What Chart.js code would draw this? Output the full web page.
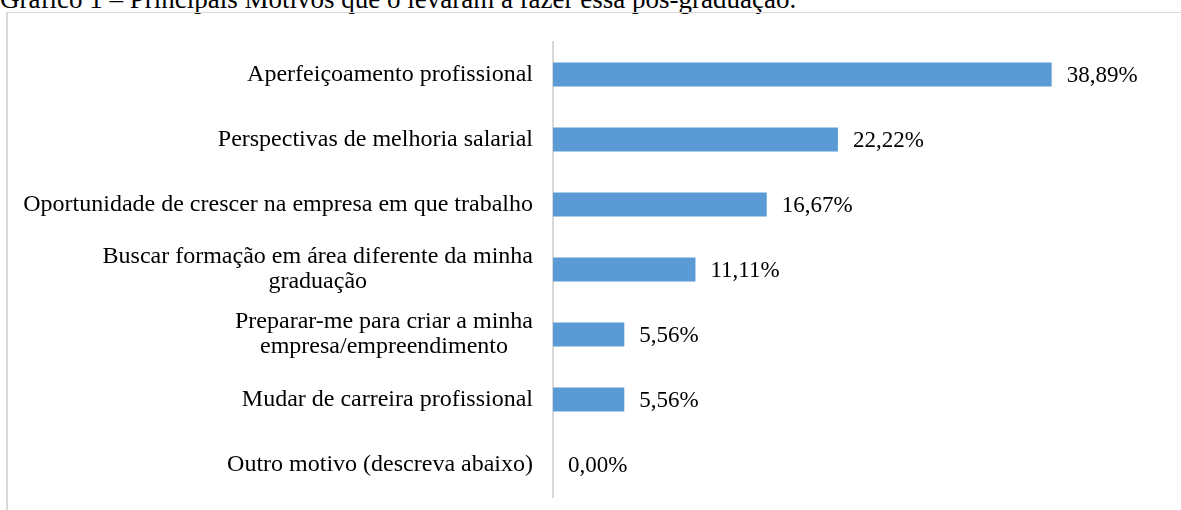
<!DOCTYPE html>
<html>
<head>
<meta charset="utf-8">
<script src="https://cdn.jsdelivr.net/npm/chart.js@4.4.1/dist/chart.umd.min.js"></script>
<style>
  html, body { margin: 0; padding: 0; background: #fff; overflow: hidden; }
  body { width: 1181px; height: 510px; position: relative; }
  #title { position: absolute; left: 0; top: -12px; font: 27px "Liberation Serif", "Times New Roman", serif; line-height: 22px; color: #000; white-space: nowrap; }
  #frame { position: absolute; left: 6px; top: 12px; width: 1200px; height: 520px; border-left: 2px solid #d9d9d9; border-top: 1px solid #d9d9d9; }
  #wrap { position: absolute; left: 0; top: 0; width: 1181px; height: 510px; }
</style>
</head>
<body>
<div id="title">Gráfico 1 – Principais Motivos que o levaram a fazer essa pós-graduação.</div>
<div id="frame"></div>
<div id="wrap"><canvas id="c"></canvas></div>
<script>
const categories = [
  ["Aperfeiçoamento profissional"],
  ["Perspectivas de melhoria salarial"],
  ["Oportunidade de crescer na empresa em que trabalho"],
  ["Buscar formação em área diferente da minha", "graduação"],
  ["Preparar-me para criar a minha", "empresa/empreendimento"],
  ["Mudar de carreira profissional"],
  ["Outro motivo (descreva abaixo)"]
];
const values = [38.89, 22.22, 16.67, 11.11, 5.56, 5.56, 0.00];
const valueLabels = ["38,89%", "22,22%", "16,67%", "11,11%", "5,56%", "5,56%", "0,00%"];

const LABEL_FONT = '24px "Liberation Serif", "Times New Roman", serif';
const VALUE_FONT = '23px "Liberation Serif", "Times New Roman", serif';

const labelPlugin = {
  id: 'labels',
  afterDraw(chart) {
    const ctx = chart.ctx;
    const y = chart.scales.y;
    const x = chart.scales.x;
    ctx.save();
    ctx.font = LABEL_FONT;
    ctx.fillStyle = '#000';
    ctx.textBaseline = 'middle';
    const lineH = 25;
    categories.forEach((lines, i) => {
      const cy = y.getPixelForTick(i);
      const widths = lines.map(l => ctx.measureText(l).width);
      const blockW = Math.max(...widths);
      const rightEdge = y.right - 20;
      const cx = rightEdge - blockW / 2;
      ctx.textAlign = 'center';
      lines.forEach((l, k) => {
        const ly = cy + (k - (lines.length - 1) / 2) * lineH;
        ctx.fillText(l, cx, ly);
      });
    });
    const meta = chart.getDatasetMeta(0);
    ctx.font = VALUE_FONT;
    ctx.textAlign = 'left';
    meta.data.forEach((bar, i) => {
      ctx.fillText(valueLabels[i], x.getPixelForValue(values[i]) + 15, bar.y + 1);
    });
    ctx.restore();
  }
};

new Chart(document.getElementById('c'), {
  type: 'bar',
  data: {
    labels: categories,
    datasets: [{
      data: values,
      backgroundColor: '#5b9bd5',
      borderWidth: 0,
      categoryPercentage: 1,
      barPercentage: 0.37
    }]
  },
  options: {
    indexAxis: 'y',
    responsive: true,
    maintainAspectRatio: false,
    animation: false,
    layout: { padding: { top: 42, bottom: 13, right: 51, left: 0 } },
    plugins: { legend: { display: false }, tooltip: { enabled: false } },
    scales: {
      x: {
        min: 0, max: 45,
        display: false,
        grid: { display: false }
      },
      y: {
        grid: { display: false, drawTicks: false },
        border: { display: true, color: '#d9d9d9', width: 2 },
        ticks: { display: false },
        afterFit(scale) { scale.width = 553; }
      }
    }
  },
  plugins: [labelPlugin]
});
</script>
</body>
</html>
